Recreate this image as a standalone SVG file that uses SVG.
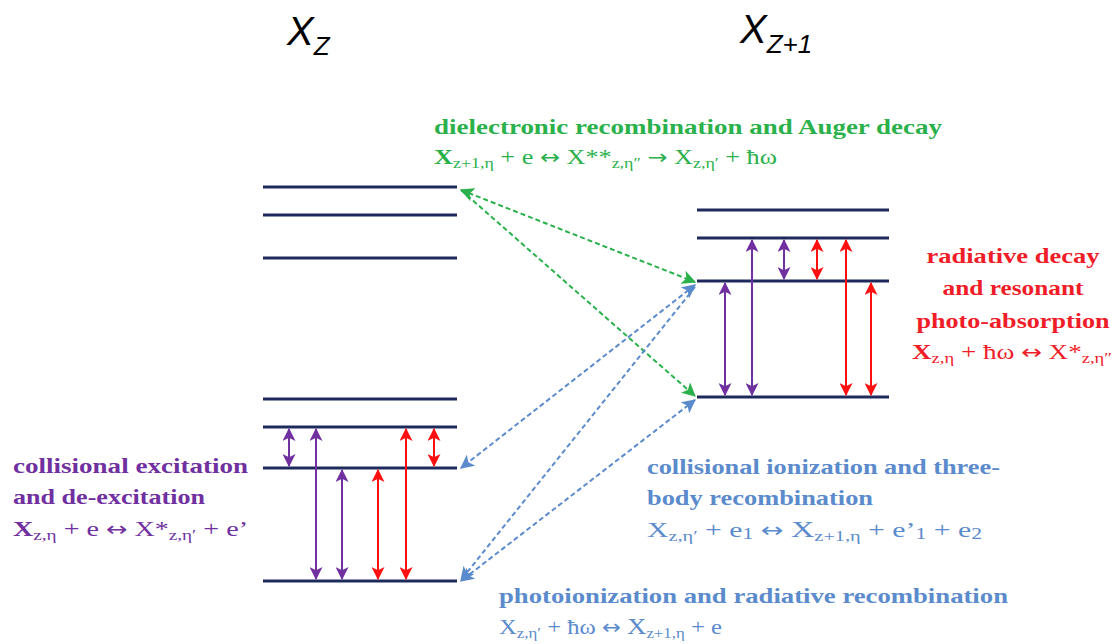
<svg xmlns="http://www.w3.org/2000/svg" width="1120" height="644" viewBox="0 0 1120 644">
<style>
.lvl{stroke:#1f2a5c;stroke-width:3.2}
.pa{stroke:#7030a0;stroke-width:2;fill:none;marker-start:url(#mp);marker-end:url(#mp)}
.ra{stroke:#ff1010;stroke-width:2;fill:none;marker-start:url(#mr);marker-end:url(#mr)}
.ga{stroke:#2bb14b;stroke-width:2;stroke-dasharray:5 3;fill:none}
.ba{stroke:#5b8bcc;stroke-width:2;stroke-dasharray:5 3;fill:none}
.t{font-family:"Liberation Serif","DejaVu Serif",serif;font-weight:bold;font-size:21px}
.f{font-family:"Liberation Serif","DejaVu Serif",serif;font-size:22px}
.s{font-size:15px}
.ar{font-family:"DejaVu Sans",sans-serif;font-size:20px}
.hd{font-family:"Liberation Sans",Arial,sans-serif;font-style:italic}
.g{fill:#2bb14b}.p{fill:#7030a0}.b{fill:#5b8bcc}.r{fill:#f01c28}
</style>
<defs>
<marker id="mp" viewBox="0 0 12 12" refX="11" refY="6" markerWidth="13" markerHeight="13" markerUnits="userSpaceOnUse" orient="auto-start-reverse"><path d="M0,0 L12,6 L0,12 L3,6 Z" fill="#7030a0"/></marker>
<marker id="mr" viewBox="0 0 12 12" refX="11" refY="6" markerWidth="13" markerHeight="13" markerUnits="userSpaceOnUse" orient="auto-start-reverse"><path d="M0,0 L12,6 L0,12 L3,6 Z" fill="#ff1010"/></marker>
<marker id="mg" viewBox="0 0 12 12" refX="11" refY="6" markerWidth="14" markerHeight="14" markerUnits="userSpaceOnUse" orient="auto-start-reverse"><path d="M0,0 L12,6 L0,12 L3,6 Z" fill="#2bb14b"/></marker>
<marker id="mb" viewBox="0 0 12 12" refX="11" refY="6" markerWidth="14" markerHeight="14" markerUnits="userSpaceOnUse" orient="auto-start-reverse"><path d="M0,0 L12,6 L0,12 L3,6 Z" fill="#5b8bcc"/></marker>
</defs>
<rect width="1120" height="644" fill="#ffffff"/>

<g id="header-xz">
<text class="hd" x="287" y="45" font-size="40">X<tspan font-size="26" dy="10">Z</tspan></text>
</g>
<g id="header-xz1">
<text class="hd" x="740" y="43" font-size="40">X<tspan font-size="26" dy="10">Z+1</tspan></text>
</g>

<g id="levels-xz">
<line class="lvl" x1="263" y1="187" x2="457" y2="187"/>
<line class="lvl" x1="263" y1="215" x2="457" y2="215"/>
<line class="lvl" x1="263" y1="258" x2="457" y2="258"/>
<line class="lvl" x1="263" y1="399" x2="457" y2="399"/>
<line class="lvl" x1="263" y1="427" x2="457" y2="427"/>
<line class="lvl" x1="263" y1="468" x2="457" y2="468"/>
<line class="lvl" x1="263" y1="581" x2="457" y2="581"/>
</g>
<g id="levels-xz1">
<line class="lvl" x1="697" y1="210" x2="889" y2="210"/>
<line class="lvl" x1="697" y1="238" x2="889" y2="238"/>
<line class="lvl" x1="697" y1="281" x2="889" y2="281"/>
<line class="lvl" x1="697" y1="397" x2="889" y2="397"/>
</g>

<g id="connectors">
<line class="pa" x1="289" y1="429" x2="289" y2="466"/>
<line class="pa" x1="316" y1="429" x2="316" y2="579"/>
<line class="pa" x1="342" y1="470" x2="342" y2="579"/>
<line class="ra" x1="378" y1="470" x2="378" y2="579"/>
<line class="ra" x1="406" y1="429" x2="406" y2="579"/>
<line class="ra" x1="434" y1="429" x2="434" y2="466"/>
<line class="pa" x1="725" y1="283" x2="725" y2="395"/>
<line class="pa" x1="752" y1="240" x2="752" y2="395"/>
<line class="pa" x1="784" y1="240" x2="784" y2="279"/>
<line class="ra" x1="817" y1="240" x2="817" y2="279"/>
<line class="ra" x1="846" y1="240" x2="846" y2="395"/>
<line class="ra" x1="871" y1="283" x2="871" y2="395"/>
<line class="ga" x1="461" y1="190" x2="695" y2="282" marker-start="url(#mg)" marker-end="url(#mg)"/>
<line class="ga" x1="461" y1="190" x2="695" y2="396" marker-end="url(#mg)"/>
<line class="ba" x1="695" y1="285" x2="461" y2="468" marker-start="url(#mb)" marker-end="url(#mb)"/>
<line class="ba" x1="695" y1="287" x2="461" y2="580" marker-end="url(#mb)"/>
<line class="ba" x1="695" y1="400" x2="461" y2="581" marker-start="url(#mb)" marker-end="url(#mb)"/>
</g>

<g id="label-dielectronic">
<text class="t g" x="434" y="134" textLength="508" lengthAdjust="spacingAndGlyphs">dielectronic recombination and Auger decay</text>
<text class="f g" x="434" y="164" textLength="343" lengthAdjust="spacingAndGlyphs"><tspan font-weight="bold">X</tspan><tspan class="s" dy="4">z+1,η</tspan><tspan dy="-4"> + e </tspan><tspan class="ar">↔</tspan><tspan> X**</tspan><tspan class="s" dy="4">z,η″</tspan><tspan dy="-4"> </tspan><tspan class="ar">→</tspan><tspan> X</tspan><tspan class="s" dy="4">z,η′</tspan><tspan dy="-4"> + ħω</tspan></text>
</g>

<g id="label-collisional-excitation">
<text class="t p" x="13" y="473" textLength="235" lengthAdjust="spacingAndGlyphs">collisional excitation</text>
<text class="t p" x="13" y="504" textLength="192" lengthAdjust="spacingAndGlyphs">and de-excitation</text>
<text class="f p" x="13" y="536" textLength="235" lengthAdjust="spacingAndGlyphs"><tspan font-weight="bold">X</tspan><tspan class="s" dy="4">z,η</tspan><tspan dy="-4"> + e </tspan><tspan class="ar">↔</tspan><tspan> X*</tspan><tspan class="s" dy="4">z,η′</tspan><tspan dy="-4"> + e’</tspan></text>
</g>

<g id="label-radiative-decay">
<text class="t r" x="1013" y="263" text-anchor="middle" textLength="173" lengthAdjust="spacingAndGlyphs">radiative decay</text>
<text class="t r" x="1013" y="295" text-anchor="middle" textLength="141" lengthAdjust="spacingAndGlyphs">and resonant</text>
<text class="t r" x="1013" y="328" text-anchor="middle" textLength="193" lengthAdjust="spacingAndGlyphs">photo-absorption</text>
<text class="f r" x="912" y="359" textLength="200" lengthAdjust="spacingAndGlyphs"><tspan font-weight="bold">X</tspan><tspan class="s" dy="4">z,η</tspan><tspan dy="-4"> + ħω </tspan><tspan class="ar">↔</tspan><tspan> X*</tspan><tspan class="s" dy="4">z,η″</tspan></text>
</g>

<g id="label-collisional-ionization">
<text class="t b" x="647" y="474" textLength="353" lengthAdjust="spacingAndGlyphs">collisional ionization and three-</text>
<text class="t b" x="647" y="505" textLength="226" lengthAdjust="spacingAndGlyphs">body recombination</text>
<text class="f b" x="647" y="537" textLength="335" lengthAdjust="spacingAndGlyphs">X<tspan class="s" dy="4">z,η′</tspan><tspan dy="-4"> + e</tspan><tspan font-size="16" dy="2">1</tspan><tspan dy="-2"> </tspan><tspan class="ar">↔</tspan><tspan> </tspan><tspan font-size="24">X</tspan><tspan class="s" dy="4">z+1,η</tspan><tspan dy="-4"> + e’</tspan><tspan font-size="16" dy="2">1</tspan><tspan dy="-2"> + e</tspan><tspan font-size="16" dy="2">2</tspan></text>
</g>

<g id="label-photoionization">
<text class="t b" x="499" y="603" textLength="509" lengthAdjust="spacingAndGlyphs">photoionization and radiative recombination</text>
<text class="f b" x="499" y="634" textLength="223" lengthAdjust="spacingAndGlyphs">X<tspan class="s" dy="4">z,η′</tspan><tspan dy="-4"> + ħω </tspan><tspan class="ar">↔</tspan><tspan> </tspan><tspan font-size="24">X</tspan><tspan class="s" dy="4">z+1,η</tspan><tspan dy="-4"> + e</tspan></text>
</g>
</svg>
